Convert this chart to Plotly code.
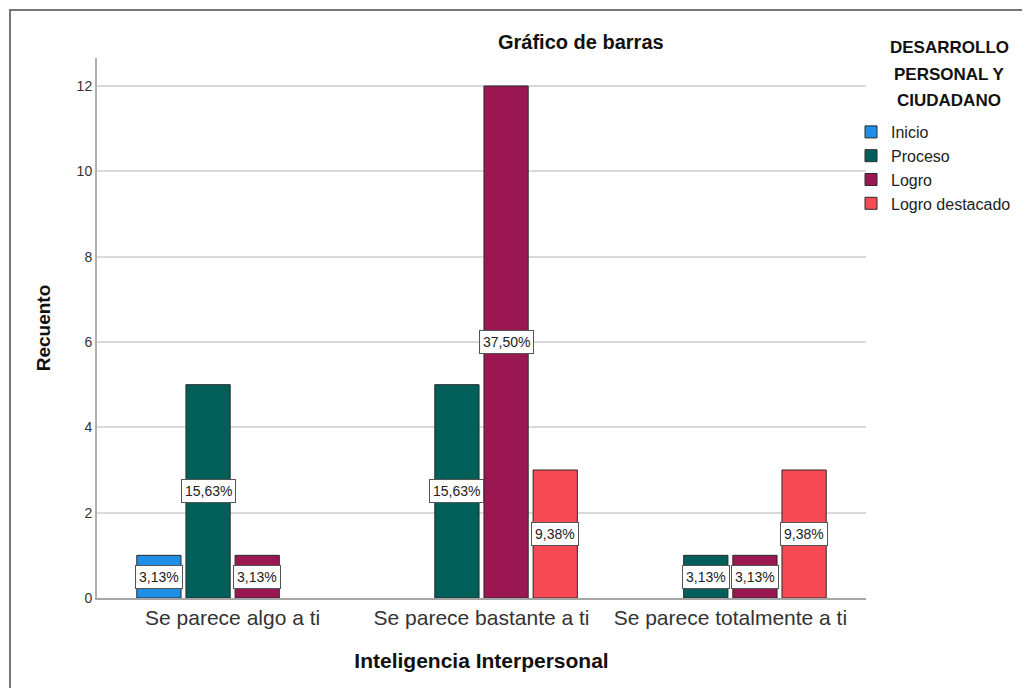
import plotly.graph_objects as go
from decimal import Decimal, ROUND_HALF_UP

categories = ["Se parece algo a ti", "Se parece bastante a ti", "Se parece totalmente a ti"]
series_names = ["Inicio", "Proceso", "Logro", "Logro destacado"]
inicio = [1, 0, 0]
proceso = [5, 5, 1]
logro = [1, 12, 1]
logro_destacado = [0, 3, 3]
series_values = [inicio, proceso, logro, logro_destacado]
colors = ["#1f8fe6", "#005f59", "#9a1752", "#f84a55"]
total = 32
y_ticks = [0, 2, 4, 6, 8, 10, 12]
legend_title_lines = ["DESARROLLO", "PERSONAL Y", "CIUDADANO"]

FONT = "Arial, Liberation Sans, sans-serif"
OFF = 8  # page body margin
W, H = 1030 - OFF, 688 - OFF
# plot area in screen pixels
SL, SR, ST, SB = 97, 866, 58, 598
L, R, T, B = SL - OFF, SR - OFF, ST - OFF, SB - OFF
bargap = 0.21
bargroupgap = 0.1

fig = go.Figure()
for name, vals, col in zip(series_names, series_values, colors):
    fig.add_trace(go.Bar(
        x=categories,
        y=[v if v > 0 else None for v in vals],
        name=name,
        marker=dict(color=col, line=dict(color="#2a2a2a", width=1)),
    ))

# percentage labels
n = len(series_names)
slot = (1 - bargap) / n
for si, vals in enumerate(series_values):
    for ci, v in enumerate(vals):
        if v > 0:
            p = Decimal(v * 100) / Decimal(total)
            p = p.quantize(Decimal("0.01"), rounding=ROUND_HALF_UP)
            pct = f"{p}%".replace(".", ",")
            fig.add_annotation(
                x=ci + (si - (n - 1) / 2) * slot, y=v / 2, xref="x", yref="y",
                text=pct, showarrow=False,
                font=dict(family=FONT, size=14, color="#222222"),
                bgcolor="white", bordercolor="#555555", borderwidth=1, borderpad=3,
            )

pw = R - L
ph = B - T
ymax = (SB - ST) / ((598 - 86) / 12)

def px_x(s):
    return (s - SL) / pw

def px_y(s):
    return (SB - s) / ph

# title
fig.add_annotation(x=px_x(581), y=px_y(42), xref="paper", yref="paper",
                   xanchor="center", yanchor="middle",
                   text="<b>Gráfico de barras</b>", showarrow=False,
                   font=dict(family=FONT, size=20, color="#111111"))
# legend title (one annotation per line for the wide line spacing)
for i, line in enumerate(legend_title_lines):
    fig.add_annotation(x=px_x(949), y=px_y(47 + 27 * i), xref="paper", yref="paper",
                       xanchor="center", yanchor="middle",
                       text=f"<b>{line}</b>", showarrow=False,
                       font=dict(family=FONT, size=17, color="#111111"))
# frame
fig.add_shape(type="rect", xref="paper", yref="paper",
              x0=px_x(10), x1=px_x(1045), y0=px_y(700), y1=px_y(10),
              line=dict(color="#777777", width=2), fillcolor="rgba(0,0,0,0)")

fig.update_layout(
    width=W, height=H,
    margin=dict(l=L, r=W - R, t=T, b=H - B, autoexpand=False),
    paper_bgcolor="white", plot_bgcolor="white",
    barmode="group", bargap=bargap, bargroupgap=bargroupgap,
    font=dict(family=FONT, color="#333333"),
    showlegend=True,
    legend=dict(x=px_x(851), y=px_y(115), xanchor="left", yanchor="top",
                font=dict(family=FONT, size=16, color="#222222"), itemwidth=30,
                tracegroupgap=0, bgcolor="rgba(0,0,0,0)"),
    xaxis=dict(
        type="category", range=[-0.545, 2.545],
        showline=True, linecolor="#a6a6a6", linewidth=2,
        tickfont=dict(family=FONT, size=21, color="#333333"), ticks="",
        title=dict(text="<b>Inteligencia Interpersonal</b>", standoff=25,
                   font=dict(family=FONT, size=21, color="#111111")),
    ),
    yaxis=dict(
        range=[0, ymax], tickvals=y_ticks,
        showline=True, linecolor="#b0b0b0", linewidth=2,
        showgrid=True, gridcolor="#d9d9d9", gridwidth=1.5, zeroline=False,
        tickfont=dict(family=FONT, size=14, color="#333333"), ticks="",
        title=dict(text="<b>Recuento</b>", standoff=21,
                   font=dict(family=FONT, size=19, color="#111111")),
    ),
)

fig.write_html("out.html")
